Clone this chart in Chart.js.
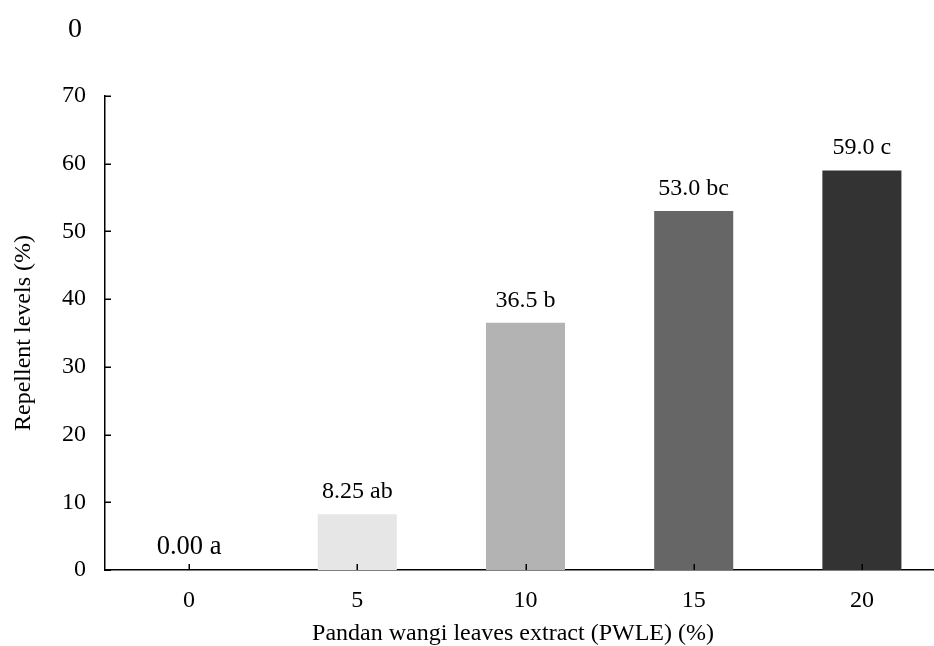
<!DOCTYPE html>
<html>
<head>
<meta charset="utf-8">
<title>Repellent levels</title>
<script src="https://cdn.jsdelivr.net/npm/chart.js@4"></script>
<style>
    html, body { margin: 0; padding: 0; background: #fff; overflow: hidden; }
    #wrap { width: 950px; height: 646px; }
</style>
</head>
<body>
<div id="wrap"><canvas id="myChart" width="950" height="646"></canvas></div>
<script>
var categorias = ["0", "5", "10", "15", "20"];
var valores = [0, 8.25, 36.5, 53.0, 59.0];
var textoValores = ["0.00", "8.25", "36.5", "53.0", "59.0"];
var letras = ["a", "ab", "b", "bc", "c"];
var coresBarras = ["#ffffff", "#e6e6e6", "#b3b3b3", "#666666", "#333333"];
var tamanhoRotulos = [26.5, 24, 24, 24, 24];
var ticksY = [0, 10, 20, 30, 40, 50, 60, 70];

var fonte = "'Liberation Serif', 'Times New Roman', serif";
Chart.defaults.font.family = fonte;
Chart.defaults.color = "#000";

// ticks pequenos para dentro + textos soltos
var extras = {
    id: "extras",
    afterDatasetsDraw: function (chart) {
        var ctx = chart.ctx;
        var meta = chart.getDatasetMeta(0);
        ctx.save();
        ctx.fillStyle = "#000";
        ctx.textAlign = "center";
        ctx.textBaseline = "alphabetic";
        meta.data.forEach(function (bar, i) {
            ctx.font = tamanhoRotulos[i] + "px " + fonte;
            ctx.fillText(textoValores[i] + " " + letras[i], bar.x, bar.y - 16);
        });
        ctx.restore();
    },
    afterDraw: function (chart) {
        var ctx = chart.ctx;
        var x = chart.scales.x;
        var y = chart.scales.y;
        var area = chart.chartArea;
        ctx.save();
        ctx.strokeStyle = "#000";
        ctx.lineWidth = 1.5;
        ctx.beginPath();
        y.ticks.forEach(function (t, i) {
            var py = Math.round(y.getPixelForTick(i)) + 0.25;
            ctx.moveTo(area.left, py);
            ctx.lineTo(area.left + 6, py);
        });
        x.ticks.forEach(function (t, i) {
            var px = Math.round(x.getPixelForTick(i)) + 0.25;
            ctx.moveTo(px, area.bottom);
            ctx.lineTo(px, area.bottom - 6);
        });
        ctx.stroke();

        ctx.fillStyle = "#000";
        ctx.textAlign = "center";
        ctx.textBaseline = "alphabetic";
        ctx.font = "28px " + fonte;
        ctx.fillText("0", 75, 37);
        ctx.font = "24px " + fonte;
        ctx.fillText("Pandan wangi leaves extract (PWLE) (%)", 513, 640);
        ctx.restore();
    }
};

var ctx = document.getElementById("myChart").getContext("2d");
var myChart = new Chart(ctx, {
    type: "bar",
    data: {
        labels: categorias,
        datasets: [
            {
                label: "Repellent levels",
                data: valores,
                backgroundColor: coresBarras,
                borderWidth: 0,
                barPercentage: 0.47,
                categoryPercentage: 1
            }
        ]
    },
    options: {
        responsive: false,
        animation: false,
        devicePixelRatio: 1,
        layout: {
            padding: { top: 96, right: 4, left: 0, bottom: 0 }
        },
        plugins: {
            legend: { display: false },
            title: { display: false },
            tooltip: { enabled: false }
        },
        scales: {
            x: {
                grid: { display: false, drawTicks: false },
                border: { display: true, color: "#000", width: 1.5 },
                ticks: { font: { size: 24 }, padding: 16, color: "#000" },
                afterFit: function (scale) { scale.height = 76; }
            },
            y: {
                min: 0,
                max: 70,
                grid: { display: false, drawTicks: false },
                border: { display: true, color: "#000", width: 1.5 },
                ticks: {
                    font: { size: 24 },
                    padding: 19,
                    color: "#000",
                    stepSize: 10,
                    callback: function (v) { return ticksY.indexOf(v) >= 0 ? String(v) : ""; }
                },
                title: {
                    display: true,
                    text: "Repellent levels (%)",
                    font: { size: 24 },
                    color: "#000",
                    padding: { top: 9, bottom: 0 }
                },
                afterFit: function (scale) { scale.width = 105; }
            }
        }
    },
    plugins: [extras]
});
</script>
</body>
</html>
